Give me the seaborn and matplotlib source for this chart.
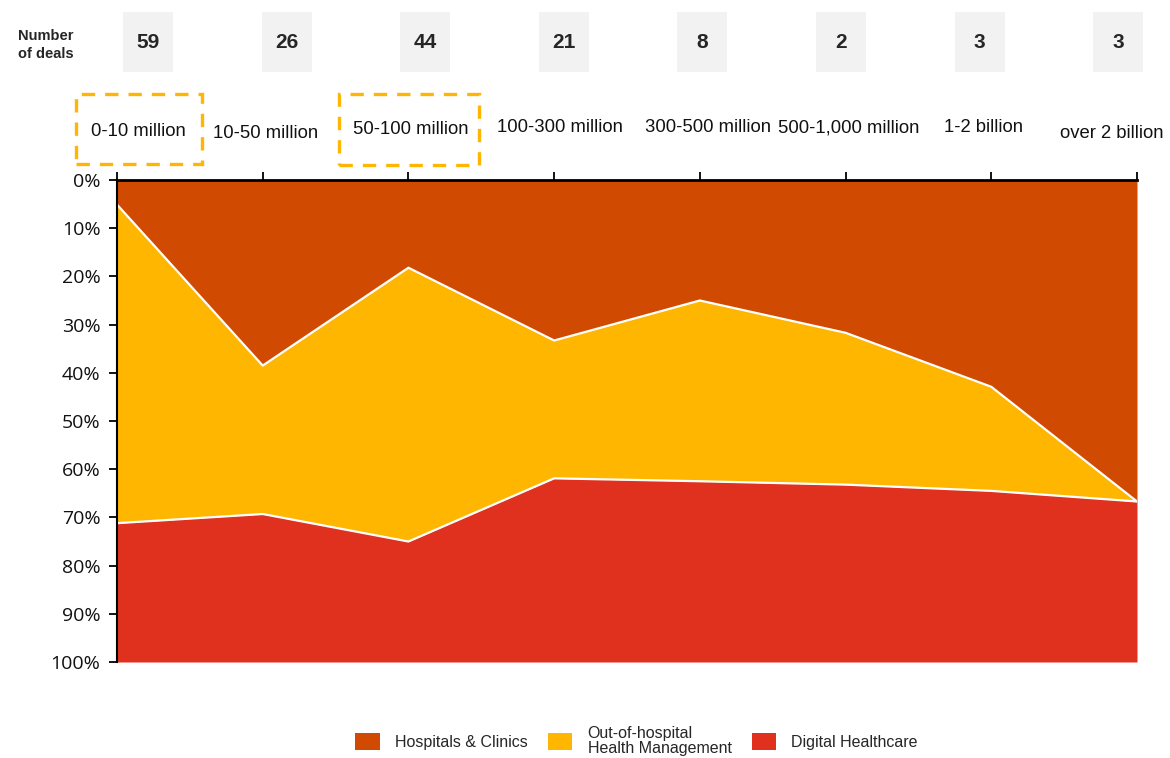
import numpy as np
import pandas as pd
import matplotlib
matplotlib.use("Agg")
import matplotlib.pyplot as plt
from matplotlib.patches import Rectangle, Patch
import seaborn as sns

# Deal size bands and deal counts
size_bands = ["0-10 million", "10-50 million", "50-100 million", "100-300 million",
              "300-500 million", "500-1,000 million", "1-2 billion", "over 2 billion"]
deal_counts = [59, 26, 44, 21, 8, 2, 3, 3]

# Share of deals per segment (%)
hospitals_clinics = [5.1, 38.5, 18.2, 33.3, 25.0, 31.7, 42.9, 66.7]
out_of_hospital = [66.1, 30.8, 56.8, 28.6, 37.5, 31.5, 21.6, 0.0]
digital_healthcare = [28.8, 30.8, 25.0, 38.1, 37.5, 36.8, 35.5, 33.3]

segment_names = ["Hospitals & Clinics", "Out-of-hospital\nHealth Management", "Digital Healthcare"]
highlighted_bands = ["0-10 million", "50-100 million"]

C_HOSP = "#D04A02"
C_OOH = "#FFB600"
C_DIG = "#E0301E"
C_BOX = "#F2F2F2"

sns.set_theme(style="white")
plt.rcParams["font.family"] = ["Liberation Sans", "DejaVu Sans"]

W, H = 1170, 758
fig = plt.figure(figsize=(W / 100, H / 100), dpi=100)
ax = fig.add_axes([117 / W, 96 / H, 1020 / W, 482 / H])

df = pd.DataFrame({
    "band": size_bands,
    "pos": np.arange(len(size_bands)),
    "hosp": hospitals_clinics,
    "ooh": out_of_hospital,
    "dig": digital_healthcare,
})
df["b1"] = df["hosp"]
df["b2"] = df["hosp"] + df["ooh"]

# Stacked shares, top segment first (y axis runs downwards)
ax.fill_between(df["pos"], 0, df["b1"], color=C_HOSP, lw=0)
ax.fill_between(df["pos"], df["b1"], df["b2"], color=C_OOH, lw=0)
ax.fill_between(df["pos"], df["b2"], 100, color=C_DIG, lw=0)
sns.lineplot(data=df, x="pos", y="b1", color="white", lw=1.6, ax=ax)
sns.lineplot(data=df, x="pos", y="b2", color="white", lw=1.6, ax=ax)

ax.set_xlim(0, len(size_bands) - 1)
ax.set_ylim(100, 0)
ax.set_xlabel("")
ax.set_ylabel("")
ax.xaxis.tick_top()
ax.set_xticks(df["pos"])
ax.set_xticklabels([])
yt = np.arange(0, 101, 10)
ax.set_yticks(yt)
ax.set_yticklabels([f"{v}%" for v in yt], fontsize=14, family=["Open Sans", "DejaVu Sans"], color="#111111")
ax.tick_params(axis="x", which="major", direction="out", length=6, width=1.3, color="black", top=True, bottom=False)
ax.tick_params(axis="y", which="major", direction="out", length=6, width=1.3, color="black", left=True, pad=6)
for s in ["bottom", "right"]:
    ax.spines[s].set_visible(False)
ax.spines["top"].set_linewidth(2)
ax.spines["top"].set_color("black")
ax.spines["left"].set_linewidth(1.5)
ax.spines["left"].set_color("black")
ax.set_zorder(1)


def fx(px):
    return px / W


def fy(py):
    return 1 - py / H


# Number of deals row
fig.text(fx(46), fy(45), "Number\nof deals", ha="center", va="center",
         fontsize=10.5, fontweight="bold", linespacing=1.3)
box_centers = [148 + 138.6 * i for i in range(len(deal_counts))]
for cx, n in zip(box_centers, deal_counts):
    fig.patches.append(Rectangle((fx(cx - 25), fy(72)), 50 / W, 60 / H,
                                 transform=fig.transFigure, facecolor=C_BOX, edgecolor="none"))
    fig.text(fx(cx), fy(43), str(n), ha="center", va="center", fontsize=15, fontweight="bold")

# Deal size band labels
label_pos = [(138, 132), (266, 133), (411, 130), (560, 128),
             (708, 128), (849, 128), (984, 128), (1112, 133)]
for (lx, ly), band in zip(label_pos, size_bands):
    fig.text(fx(lx), fy(ly), band, ha="center", va="center", fontsize=13.3, color="#111111")

# Dashed highlight frames
frames = {"0-10 million": (76, 94, 202, 164), "50-100 million": (339, 94, 479, 165)}
for band in highlighted_bands:
    x0, y0, x1, y1 = frames[band]
    fig.patches.append(Rectangle((fx(x0), fy(y1)), (x1 - x0) / W, (y1 - y0) / H,
                                 transform=fig.transFigure, fill=False, edgecolor=C_OOH,
                                 lw=2.4, linestyle=(0, (4.0, 3.0))))

handles = [Patch(facecolor=c, edgecolor="none") for c in (C_HOSP, C_OOH, C_DIG)]
leg = fig.legend(handles, segment_names, loc="center", bbox_to_anchor=(0.544, fy(741)), ncol=3,
                 frameon=False, fontsize=11.5, handlelength=1.55, handleheight=1.25,
                 handletextpad=0.95, columnspacing=1.25, borderaxespad=0, borderpad=0,
                 labelspacing=0)
for t in leg.get_texts():
    t.set_linespacing(1.0)

fig.savefig("out.png", dpi=100)
